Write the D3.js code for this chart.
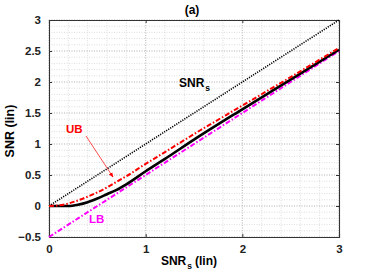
<!DOCTYPE html>
<html>
<head>
<meta charset="utf-8">
<script src="https://cdn.jsdelivr.net/npm/d3@7"></script>
<style>
  body { margin: 0; background: #fff; }
  text { font-family: "Liberation Sans", Arial, sans-serif; font-weight: bold; }
</style>
</head>
<body>
<div id="chart-area"></div>
<script>
const margin = { left: 49, right: 35, top: 20, bottom: 43 };
const chartSize = { width: 374, height: 280 };
const width = chartSize.width - (margin.left + margin.right);
const height = chartSize.height - (margin.top + margin.bottom);

// data
const snrS = [0, 0.1, 0.2, 0.3, 0.4, 0.5, 0.6, 0.7, 0.8, 1.0, 1.2, 1.5, 2.0, 2.5, 3.0];
const upperBound = [0, 0.01, 0.04, 0.09, 0.15, 0.22, 0.30, 0.39, 0.48, 0.68, 0.87, 1.16, 1.62, 2.08, 2.55];
const actualSnr = [0, 0, 0, 0.02, 0.06, 0.12, 0.19, 0.26, 0.35, 0.56, 0.76, 1.07, 1.56, 2.04, 2.52];
const lowerBound = [-0.5, -0.4, -0.3, -0.2, -0.1, 0, 0.1, 0.2, 0.3, 0.5, 0.7, 1.0, 1.5, 2.0, 2.5];
const xTicks = [0, 1, 2, 3];
const yTicks = [-0.5, 0, 0.5, 1, 1.5, 2, 2.5, 3];

const svg = d3.select("#chart-area").append("svg")
    .attr("width", chartSize.width)
    .attr("height", chartSize.height);

const g = svg.append("g")
    .attr("transform", `translate(${margin.left}, ${margin.top})`);

const x = d3.scaleLinear().domain([0, 3]).range([0, width]);
const y = d3.scaleLinear().domain([-0.5, 3]).range([height, 0]);

// minor grid
g.append("g").selectAll("line")
    .data(d3.range(0, 3.001, 0.2))
    .join("line")
    .attr("x1", d => x(d)).attr("x2", d => x(d))
    .attr("y1", 0).attr("y2", height)
    .attr("stroke", "#d0d0d0").attr("stroke-width", 0.7)
    .attr("stroke-dasharray", "1,1.5");
g.append("g").selectAll("line")
    .data(d3.range(-0.5, 3.001, 0.1))
    .join("line")
    .attr("x1", 0).attr("x2", width)
    .attr("y1", d => y(d)).attr("y2", d => y(d))
    .attr("stroke", "#d0d0d0").attr("stroke-width", 0.7)
    .attr("stroke-dasharray", "1,1.5");

// major grid
g.append("g").selectAll("line")
    .data(xTicks)
    .join("line")
    .attr("x1", d => x(d)).attr("x2", d => x(d))
    .attr("y1", 0).attr("y2", height)
    .attr("stroke", "#b8b8b8").attr("stroke-width", 0.8)
    .attr("stroke-dasharray", "1,1.5");
g.append("g").selectAll("line")
    .data(yTicks)
    .join("line")
    .attr("x1", 0).attr("x2", width)
    .attr("y1", d => y(d)).attr("y2", d => y(d))
    .attr("stroke", "#b8b8b8").attr("stroke-width", 0.8)
    .attr("stroke-dasharray", "1,1.5");

// axes
g.append("g")
    .attr("transform", `translate(0, ${height})`)
    .call(d3.axisBottom(x).tickValues(xTicks).tickSize(-3).tickPadding(8).tickFormat(d3.format("")));
g.append("g")
    .call(d3.axisTop(x).tickValues(xTicks).tickSize(-3).tickFormat(""));
g.append("g")
    .call(d3.axisLeft(y).tickValues(yTicks).tickSize(-3).tickPadding(8).tickFormat(d3.format("")));
g.append("g")
    .attr("transform", `translate(${width}, 0)`)
    .call(d3.axisRight(y).tickValues(yTicks).tickSize(-3).tickFormat(""));

g.selectAll(".domain").attr("stroke", "#333").attr("stroke-width", 1.1);
g.selectAll(".tick line").attr("stroke", "#333");
g.selectAll(".tick text").attr("font-size", 11.5).attr("fill", "#222")
    .style("font-family", "'Liberation Sans', Arial, sans-serif").style("font-weight", "bold");

// curves
const pts = vals => snrS.map((s, i) => [s, vals[i]]);
const line = d3.line()
    .x(d => x(d[0]))
    .y(d => y(d[1]))
    .curve(d3.curveMonotoneX);

g.append("path")
    .attr("d", line(pts(snrS)))
    .attr("fill", "none").attr("stroke", "#000")
    .attr("stroke-width", 1.6).attr("stroke-dasharray", "1.2,1.2");

g.append("path")
    .attr("d", line(pts(lowerBound)))
    .attr("fill", "none").attr("stroke", "#ff00ff")
    .attr("stroke-width", 2).attr("stroke-dasharray", "5,2,1.5,2");

g.append("path")
    .attr("d", line(pts(actualSnr)))
    .attr("fill", "none").attr("stroke", "#000")
    .attr("stroke-width", 2.6);

g.append("path")
    .attr("d", line(pts(upperBound)))
    .attr("fill", "none").attr("stroke", "#ff0000")
    .attr("stroke-width", 2).attr("stroke-dasharray", "5,2,1.5,2");

// annotations
svg.append("text")
    .attr("x", 192).attr("y", 14)
    .attr("text-anchor", "middle").attr("font-size", 12)
    .text("(a)");

const snrLabel = svg.append("text")
    .attr("x", 179).attr("y", 87)
    .attr("font-size", 12);
snrLabel.append("tspan").text("SNR");
snrLabel.append("tspan").attr("dy", 4).attr("dx", 1).attr("font-size", 8.5).text("s");

svg.append("text")
    .attr("x", 66).attr("y", 133)
    .attr("font-size", 11.5).attr("fill", "#ff0000")
    .text("UB");

svg.append("defs").append("marker")
    .attr("id", "arrow")
    .attr("viewBox", "0 0 10 10")
    .attr("refX", 9).attr("refY", 5)
    .attr("markerWidth", 7).attr("markerHeight", 7)
    .attr("orient", "auto")
    .append("path")
    .attr("d", "M0,1 L10,5 L0,9 Z")
    .attr("fill", "#ff0000");

svg.append("line")
    .attr("x1", 86).attr("y1", 136)
    .attr("x2", 113).attr("y2", 177)
    .attr("stroke", "#ff0000").attr("stroke-width", 0.7)
    .attr("marker-end", "url(#arrow)");

svg.append("text")
    .attr("x", 89).attr("y", 223)
    .attr("font-size", 11.5).attr("fill", "#ff00ff")
    .text("LB");

const xLabel = svg.append("text")
    .attr("x", 189).attr("y", 265)
    .attr("text-anchor", "middle")
    .attr("font-size", 12);
xLabel.append("tspan").text("SNR");
xLabel.append("tspan").attr("dy", 4).attr("dx", 1).attr("font-size", 8.5).text("s");
xLabel.append("tspan").attr("dy", -4).attr("dx", 3).text("(lin)");

svg.append("text")
    .attr("transform", `translate(14, 131) rotate(-90)`)
    .attr("text-anchor", "middle")
    .attr("font-size", 12.5)
    .text("SNR (lin)");
</script>
</body>
</html>
